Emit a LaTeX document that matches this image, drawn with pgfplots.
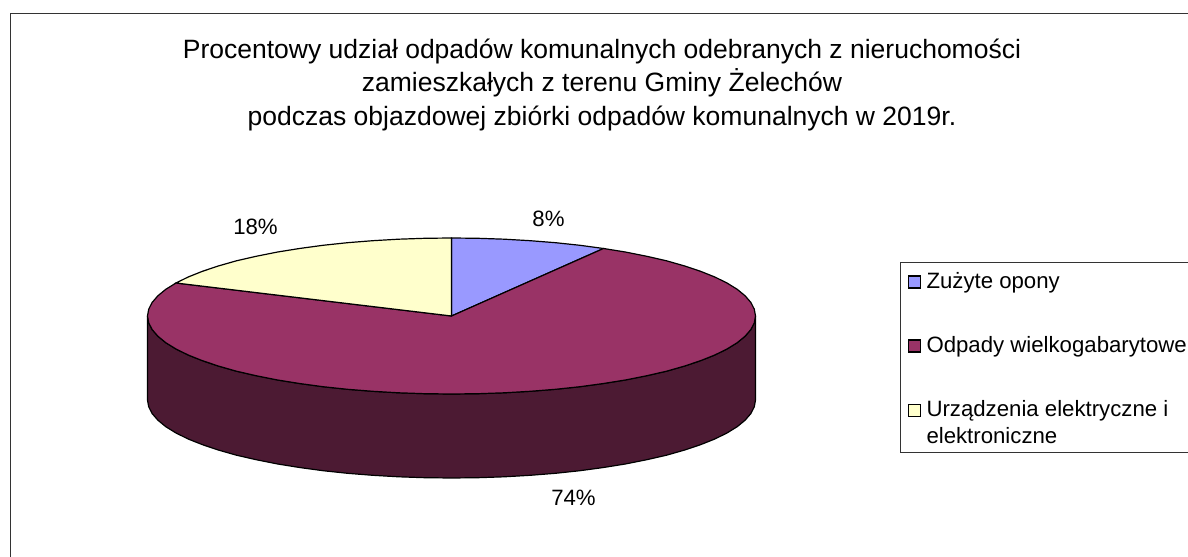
\documentclass[border=0pt]{standalone}
\usepackage{fontspec}
\setmainfont{Liberation Sans}
\usepackage{pgfplots}
\pgfplotsset{compat=1.18}
\definecolor{opony}{HTML}{9999FF}
\definecolor{wielko}{HTML}{993366}
\definecolor{wielkoside}{HTML}{4C1A33}
\definecolor{urzadz}{HTML}{FFFFCC}
\definecolor{ramka}{HTML}{333333}
\pgfplotsset{swatch/.style={legend image code/.code={
  \draw[##1,line width=1.5bp] (0bp,0bp) rectangle (12bp,12bp);}}}
\newcommand{\lab}{\fontsize{22.2bp}{27bp}\selectfont}
\newcommand{\st}{\rule[-5bp]{0pt}{19bp}}
\begin{document}
\begin{tikzpicture}[x=1bp,y=1bp]
\path[use as bounding box,clip] (0,0) rectangle (1188,557);
\begin{axis}[
  at={(0,0)},anchor=south west,
  scale only axis,width=1188bp,height=557bp,
  xmin=-0.5,xmax=1187.5,ymin=0,ymax=557,y dir=reverse,
  hide axis,clip=false,
  legend cell align=left,
  legend style={at={(axis cs:899,262)},anchor=north west,draw=ramka,line width=1bp,
    font=\lab,row sep=41bp,inner xsep=7.5bp,inner ysep=8.5bp,
    nodes={inner sep=1bp,text depth=},cells={anchor=base west},
    /tikz/every odd column/.append style={column sep=4.5bp}},
]
% sciana boczna
\addplot[forget plot,fill=wielkoside,draw=black,line width=1.2bp] coordinates {
(755,316)(753.8,322.8)(750.4,329.5)(744.6,336.2)(736.7,342.7)(726.5,349)(714.3,355)(700,360.7)
(683.9,366.1)(666,371.2)(646.4,375.7)(625.4,379.9)(603,383.5)(579.5,386.7)(555,389.3)(529.7,391.3)
(503.8,392.8)(477.5,393.7)(451,394)(424.5,393.7)(398.2,392.8)(372.3,391.3)(347,389.3)(322.5,386.7)
(299,383.5)(276.6,379.9)(255.6,375.7)(236,371.2)(218.1,366.1)(202,360.7)(187.7,355)(175.5,349)
(165.3,342.7)(157.4,336.2)(151.6,329.5)(148.2,322.8)(147,316)
(147,400)(148.2,406.8)(151.6,413.5)(157.4,420.2)(165.3,426.7)(175.5,433)(187.7,439)(202,444.7)
(218.1,450.1)(236,455.2)(255.6,459.7)(276.6,463.9)(299,467.5)(322.5,470.7)(347,473.3)(372.3,475.3)
(398.2,476.8)(424.5,477.7)(451,478)(477.5,477.7)(503.8,476.8)(529.7,475.3)(555,473.3)(579.5,470.7)
(603,467.5)(625.4,463.9)(646.4,459.7)(666,455.2)(683.9,450.1)(700,444.7)(714.3,439)(726.5,433)
(736.7,426.7)(744.6,420.2)(750.4,413.5)(753.8,406.8)(755,400)
} -- cycle;
% Zuzyte opony
\addplot[swatch,fill=opony,draw=black,line width=1.2bp] coordinates {
(451,316)(451,238)(477.5,238.3)(503.8,239.2)(529.7,240.7)(555,242.7)(579.5,245.3)(603,248.5)
} -- cycle;
% Odpady wielkogabarytowe
\addplot[swatch,fill=wielko,draw=black,line width=1.2bp] coordinates {
(451,316)(603,248.5)(625.4,252.1)(646.4,256.3)(666,260.8)(683.9,265.9)(700,271.3)(714.3,277)
(726.5,283)(736.7,289.3)(744.6,295.8)(750.4,302.5)(753.8,309.2)(755,316)
(753.8,322.8)(750.4,329.5)(744.6,336.2)(736.7,342.7)(726.5,349)(714.3,355)(700,360.7)
(683.9,366.1)(666,371.2)(646.4,375.7)(625.4,379.9)(603,383.5)(579.5,386.7)(555,389.3)(529.7,391.3)
(503.8,392.8)(477.5,393.7)(451,394)(424.5,393.7)(398.2,392.8)(372.3,391.3)(347,389.3)(322.5,386.7)
(299,383.5)(276.6,379.9)(255.6,375.7)(236,371.2)(218.1,366.1)(202,360.7)(187.7,355)(175.5,349)
(165.3,342.7)(157.4,336.2)(151.6,329.5)(148.2,322.8)(147,316)
(148.2,309.2)(151.6,302.5)(157.4,295.8)(165.3,289.3)(175.5,283)
} -- cycle;
% Urzadzenia
\addplot[swatch,fill=urzadz,draw=black,line width=1.2bp] coordinates {
(451,316)(175.5,283)(187.7,277)(202,271.3)(218.1,265.9)(236,260.8)(255.6,256.3)(276.6,252.1)
(299,248.5)(322.5,245.3)(347,242.7)(372.3,240.7)(398.2,239.2)(424.5,238.3)(451,238)
} -- cycle;
\legend{\st Zużyte opony,\st Odpady wielkogabarytowe,{\parbox[t]{270bp}{\lab\st Urządzenia elektryczne i\\elektroniczne}}}
% ramka wykresu
\addplot[forget plot,draw=ramka,line width=1.7bp] coordinates {(10,560)(10,13.5)(1190,13.5)};
\node[font=\lab] at (axis cs:548,219) {8\%};
\node[font=\lab] at (axis cs:255,227) {18\%};
\node[font=\lab] at (axis cs:573,498) {74\%};
\node[font=\fontsize{26.5bp}{33.5bp}\selectfont,align=center] at (axis cs:601.5,85)
  {Procentowy udział odpadów komunalnych odebranych z nieruchomości\\
   zamieszkałych z terenu Gminy Żelechów\\
   podczas objazdowej zbiórki odpadów komunalnych w 2019r.};
\end{axis}
\end{tikzpicture}
\end{document}
